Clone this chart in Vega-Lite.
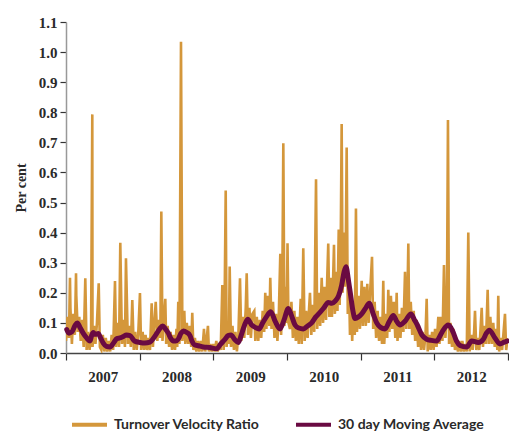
{
  "$schema": "https://vega.github.io/schema/vega-lite/v6.json",
  "width": 442,
  "height": 331,
  "autosize": {"type": "none"},
  "padding": {"left": 66, "top": 22, "right": 1, "bottom": 78},
  "background": "white",
  "config": {
    "view": {"stroke": null},
    "axis": {"grid": false}
  },
  "datasets": {
    "tvr": [
      {"t":2007.00,"v":0.04},{"t":2007.02,"v":0.12},{"t":2007.04,"v":0.05},{"t":2007.054,"v":0.25},{"t":2007.06,"v":0.15},{"t":2007.08,"v":0.03},{"t":2007.10,"v":0.13},{"t":2007.12,"v":0.06},{"t":2007.136,"v":0.265},{"t":2007.14,"v":0.19},{"t":2007.16,"v":0.07},{"t":2007.18,"v":0.12},{"t":2007.20,"v":0.04},{"t":2007.22,"v":0.11},{"t":2007.24,"v":0.02},{"t":2007.262,"v":0.248},{"t":2007.28,"v":0.01},{"t":2007.30,"v":0.07},{"t":2007.32,"v":0.01},{"t":2007.34,"v":0.06},{"t":2007.357,"v":0.793},{"t":2007.36,"v":0.02},{"t":2007.38,"v":0.09},{"t":2007.40,"v":0.03},{"t":2007.42,"v":0.10},{"t":2007.444,"v":0.232},{"t":2007.46,"v":0.02},{"t":2007.48,"v":0.01},{"t":2007.50,"v":0.06},{"t":2007.52,"v":0.005},{"t":2007.54,"v":0.05},{"t":2007.56,"v":0.005},{"t":2007.58,"v":0.04},{"t":2007.60,"v":0.005},{"t":2007.62,"v":0.06},{"t":2007.64,"v":0.01},{"t":2007.665,"v":0.239},{"t":2007.68,"v":0.02},{"t":2007.70,"v":0.10},{"t":2007.72,"v":0.02},{"t":2007.737,"v":0.366},{"t":2007.76,"v":0.03},{"t":2007.78,"v":0.11},{"t":2007.80,"v":0.02},{"t":2007.814,"v":0.315},{"t":2007.84,"v":0.03},{"t":2007.86,"v":0.09},{"t":2007.88,"v":0.02},{"t":2007.90,"v":0.176},{"t":2007.92,"v":0.01},{"t":2007.94,"v":0.07},{"t":2007.96,"v":0.01},{"t":2007.98,"v":0.06},{"t":2008.004,"v":0.199},{"t":2008.02,"v":0.01},{"t":2008.04,"v":0.07},{"t":2008.06,"v":0.01},{"t":2008.08,"v":0.06},{"t":2008.10,"v":0.01},{"t":2008.12,"v":0.05},{"t":2008.14,"v":0.01},{"t":2008.163,"v":0.165},{"t":2008.18,"v":0.02},{"t":2008.20,"v":0.10},{"t":2008.218,"v":0.17},{"t":2008.24,"v":0.04},{"t":2008.26,"v":0.11},{"t":2008.28,"v":0.05},{"t":2008.294,"v":0.47},{"t":2008.31,"v":0.04},{"t":2008.33,"v":0.12},{"t":2008.348,"v":0.18},{"t":2008.36,"v":0.03},{"t":2008.38,"v":0.09},{"t":2008.40,"v":0.02},{"t":2008.42,"v":0.07},{"t":2008.44,"v":0.01},{"t":2008.46,"v":0.06},{"t":2008.48,"v":0.01},{"t":2008.50,"v":0.08},{"t":2008.51,"v":0.02},{"t":2008.524,"v":0.17},{"t":2008.54,"v":0.03},{"t":2008.561,"v":1.034},{"t":2008.58,"v":0.04},{"t":2008.606,"v":0.14},{"t":2008.62,"v":0.03},{"t":2008.64,"v":0.10},{"t":2008.66,"v":0.03},{"t":2008.68,"v":0.09},{"t":2008.70,"v":0.02},{"t":2008.714,"v":0.134},{"t":2008.73,"v":0.01},{"t":2008.75,"v":0.05},{"t":2008.77,"v":0.005},{"t":2008.79,"v":0.04},{"t":2008.81,"v":0.005},{"t":2008.83,"v":0.04},{"t":2008.85,"v":0.005},{"t":2008.873,"v":0.08},{"t":2008.89,"v":0.005},{"t":2008.91,"v":0.05},{"t":2008.927,"v":0.09},{"t":2008.94,"v":0.005},{"t":2008.96,"v":0.03},{"t":2008.98,"v":0.005},{"t":2009.00,"v":0.03},{"t":2009.02,"v":0.005},{"t":2009.04,"v":0.04},{"t":2009.06,"v":0.005},{"t":2009.08,"v":0.03},{"t":2009.10,"v":0.01},{"t":2009.122,"v":0.226},{"t":2009.14,"v":0.01},{"t":2009.15,"v":0.09},{"t":2009.168,"v":0.54},{"t":2009.18,"v":0.02},{"t":2009.20,"v":0.10},{"t":2009.21,"v":0.03},{"t":2009.222,"v":0.287},{"t":2009.24,"v":0.02},{"t":2009.26,"v":0.09},{"t":2009.28,"v":0.01},{"t":2009.30,"v":0.07},{"t":2009.32,"v":0.005},{"t":2009.34,"v":0.06},{"t":2009.362,"v":0.248},{"t":2009.38,"v":0.04},{"t":2009.40,"v":0.12},{"t":2009.42,"v":0.05},{"t":2009.44,"v":0.15},{"t":2009.453,"v":0.265},{"t":2009.47,"v":0.06},{"t":2009.49,"v":0.15},{"t":2009.51,"v":0.05},{"t":2009.53,"v":0.13},{"t":2009.556,"v":0.14},{"t":2009.57,"v":0.04},{"t":2009.59,"v":0.12},{"t":2009.61,"v":0.04},{"t":2009.63,"v":0.11},{"t":2009.65,"v":0.05},{"t":2009.67,"v":0.14},{"t":2009.69,"v":0.07},{"t":2009.705,"v":0.20},{"t":2009.72,"v":0.08},{"t":2009.74,"v":0.19},{"t":2009.76,"v":0.09},{"t":2009.773,"v":0.25},{"t":2009.79,"v":0.08},{"t":2009.81,"v":0.17},{"t":2009.83,"v":0.05},{"t":2009.85,"v":0.13},{"t":2009.87,"v":0.04},{"t":2009.89,"v":0.14},{"t":2009.909,"v":0.33},{"t":2009.92,"v":0.06},{"t":2009.935,"v":0.18},{"t":2009.95,"v":0.697},{"t":2009.965,"v":0.09},{"t":2009.98,"v":0.22},{"t":2009.995,"v":0.10},{"t":2010.007,"v":0.365},{"t":2010.02,"v":0.10},{"t":2010.04,"v":0.08},{"t":2010.06,"v":0.17},{"t":2010.08,"v":0.05},{"t":2010.10,"v":0.14},{"t":2010.12,"v":0.04},{"t":2010.14,"v":0.12},{"t":2010.16,"v":0.03},{"t":2010.186,"v":0.18},{"t":2010.20,"v":0.03},{"t":2010.221,"v":0.348},{"t":2010.24,"v":0.04},{"t":2010.26,"v":0.14},{"t":2010.28,"v":0.05},{"t":2010.30,"v":0.15},{"t":2010.312,"v":0.20},{"t":2010.33,"v":0.06},{"t":2010.35,"v":0.16},{"t":2010.37,"v":0.07},{"t":2010.394,"v":0.577},{"t":2010.41,"v":0.08},{"t":2010.43,"v":0.20},{"t":2010.45,"v":0.09},{"t":2010.471,"v":0.25},{"t":2010.49,"v":0.10},{"t":2010.51,"v":0.22},{"t":2010.53,"v":0.11},{"t":2010.545,"v":0.24},{"t":2010.56,"v":0.364},{"t":2010.575,"v":0.12},{"t":2010.59,"v":0.25},{"t":2010.61,"v":0.12},{"t":2010.625,"v":0.24},{"t":2010.638,"v":0.36},{"t":2010.65,"v":0.13},{"t":2010.67,"v":0.27},{"t":2010.685,"v":0.14},{"t":2010.702,"v":0.41},{"t":2010.715,"v":0.16},{"t":2010.728,"v":0.33},{"t":2010.742,"v":0.761},{"t":2010.755,"v":0.20},{"t":2010.77,"v":0.40},{"t":2010.785,"v":0.22},{"t":2010.797,"v":0.33},{"t":2010.81,"v":0.683},{"t":2010.825,"v":0.13},{"t":2010.84,"v":0.25},{"t":2010.855,"v":0.06},{"t":2010.87,"v":0.18},{"t":2010.885,"v":0.04},{"t":2010.90,"v":0.16},{"t":2010.92,"v":0.06},{"t":2010.936,"v":0.48},{"t":2010.95,"v":0.07},{"t":2010.97,"v":0.19},{"t":2010.99,"v":0.08},{"t":2011.014,"v":0.24},{"t":2011.03,"v":0.09},{"t":2011.05,"v":0.22},{"t":2011.07,"v":0.09},{"t":2011.09,"v":0.23},{"t":2011.11,"v":0.10},{"t":2011.13,"v":0.21},{"t":2011.154,"v":0.32},{"t":2011.17,"v":0.08},{"t":2011.19,"v":0.17},{"t":2011.21,"v":0.05},{"t":2011.23,"v":0.14},{"t":2011.25,"v":0.04},{"t":2011.27,"v":0.12},{"t":2011.29,"v":0.03},{"t":2011.307,"v":0.24},{"t":2011.32,"v":0.03},{"t":2011.34,"v":0.13},{"t":2011.36,"v":0.05},{"t":2011.375,"v":0.21},{"t":2011.39,"v":0.07},{"t":2011.41,"v":0.19},{"t":2011.43,"v":0.08},{"t":2011.45,"v":0.17},{"t":2011.47,"v":0.05},{"t":2011.489,"v":0.20},{"t":2011.50,"v":0.04},{"t":2011.52,"v":0.13},{"t":2011.54,"v":0.05},{"t":2011.56,"v":0.15},{"t":2011.58,"v":0.07},{"t":2011.602,"v":0.27},{"t":2011.62,"v":0.08},{"t":2011.635,"v":0.19},{"t":2011.647,"v":0.364},{"t":2011.66,"v":0.08},{"t":2011.68,"v":0.17},{"t":2011.70,"v":0.06},{"t":2011.72,"v":0.14},{"t":2011.74,"v":0.04},{"t":2011.76,"v":0.11},{"t":2011.78,"v":0.02},{"t":2011.80,"v":0.08},{"t":2011.82,"v":0.01},{"t":2011.84,"v":0.07},{"t":2011.86,"v":0.01},{"t":2011.88,"v":0.06},{"t":2011.896,"v":0.18},{"t":2011.91,"v":0.005},{"t":2011.93,"v":0.06},{"t":2011.95,"v":0.01},{"t":2011.97,"v":0.07},{"t":2011.99,"v":0.01},{"t":2012.01,"v":0.08},{"t":2012.03,"v":0.02},{"t":2012.054,"v":0.12},{"t":2012.07,"v":0.03},{"t":2012.09,"v":0.12},{"t":2012.11,"v":0.04},{"t":2012.131,"v":0.292},{"t":2012.15,"v":0.05},{"t":2012.17,"v":0.13},{"t":2012.185,"v":0.774},{"t":2012.20,"v":0.03},{"t":2012.22,"v":0.10},{"t":2012.24,"v":0.02},{"t":2012.26,"v":0.08},{"t":2012.28,"v":0.01},{"t":2012.30,"v":0.05},{"t":2012.32,"v":0.005},{"t":2012.34,"v":0.04},{"t":2012.36,"v":0.005},{"t":2012.38,"v":0.04},{"t":2012.40,"v":0.005},{"t":2012.42,"v":0.03},{"t":2012.44,"v":0.005},{"t":2012.461,"v":0.40},{"t":2012.48,"v":0.005},{"t":2012.50,"v":0.06},{"t":2012.52,"v":0.01},{"t":2012.54,"v":0.07},{"t":2012.552,"v":0.14},{"t":2012.57,"v":0.01},{"t":2012.59,"v":0.05},{"t":2012.61,"v":0.01},{"t":2012.625,"v":0.07},{"t":2012.643,"v":0.15},{"t":2012.66,"v":0.02},{"t":2012.68,"v":0.09},{"t":2012.70,"v":0.03},{"t":2012.724,"v":0.21},{"t":2012.74,"v":0.03},{"t":2012.76,"v":0.12},{"t":2012.78,"v":0.03},{"t":2012.80,"v":0.10},{"t":2012.82,"v":0.02},{"t":2012.84,"v":0.08},{"t":2012.855,"v":0.01},{"t":2012.868,"v":0.19},{"t":2012.88,"v":0.005},{"t":2012.90,"v":0.05},{"t":2012.92,"v":0.01},{"t":2012.94,"v":0.07},{"t":2012.959,"v":0.13},{"t":2012.975,"v":0.01},{"t":2012.995,"v":0.05}
    ],
    "ma": [
      {"t":2007.01,"v":0.078},{"t":2007.04,"v":0.066},{"t":2007.08,"v":0.07},{"t":2007.12,"v":0.09},{"t":2007.153,"v":0.10},{"t":2007.19,"v":0.085},{"t":2007.235,"v":0.065},{"t":2007.28,"v":0.05},{"t":2007.326,"v":0.04},{"t":2007.35,"v":0.06},{"t":2007.371,"v":0.068},{"t":2007.40,"v":0.062},{"t":2007.438,"v":0.065},{"t":2007.47,"v":0.05},{"t":2007.506,"v":0.033},{"t":2007.55,"v":0.022},{"t":2007.597,"v":0.02},{"t":2007.65,"v":0.035},{"t":2007.69,"v":0.048},{"t":2007.733,"v":0.05},{"t":2007.78,"v":0.055},{"t":2007.82,"v":0.06},{"t":2007.869,"v":0.058},{"t":2007.93,"v":0.04},{"t":2008.004,"v":0.035},{"t":2008.07,"v":0.033},{"t":2008.14,"v":0.036},{"t":2008.19,"v":0.05},{"t":2008.231,"v":0.065},{"t":2008.27,"v":0.08},{"t":2008.313,"v":0.09},{"t":2008.35,"v":0.08},{"t":2008.389,"v":0.066},{"t":2008.42,"v":0.05},{"t":2008.456,"v":0.04},{"t":2008.49,"v":0.04},{"t":2008.524,"v":0.046},{"t":2008.56,"v":0.065},{"t":2008.592,"v":0.073},{"t":2008.64,"v":0.068},{"t":2008.683,"v":0.058},{"t":2008.71,"v":0.04},{"t":2008.74,"v":0.028},{"t":2008.80,"v":0.024},{"t":2008.864,"v":0.02},{"t":2008.95,"v":0.018},{"t":2009.046,"v":0.014},{"t":2009.10,"v":0.03},{"t":2009.158,"v":0.045},{"t":2009.20,"v":0.058},{"t":2009.24,"v":0.06},{"t":2009.29,"v":0.045},{"t":2009.339,"v":0.035},{"t":2009.38,"v":0.06},{"t":2009.42,"v":0.09},{"t":2009.466,"v":0.112},{"t":2009.521,"v":0.093},{"t":2009.57,"v":0.085},{"t":2009.62,"v":0.08},{"t":2009.67,"v":0.10},{"t":2009.72,"v":0.12},{"t":2009.779,"v":0.137},{"t":2009.84,"v":0.105},{"t":2009.905,"v":0.08},{"t":2009.96,"v":0.11},{"t":2010.018,"v":0.148},{"t":2010.06,"v":0.125},{"t":2010.109,"v":0.093},{"t":2010.16,"v":0.083},{"t":2010.221,"v":0.08},{"t":2010.28,"v":0.09},{"t":2010.335,"v":0.10},{"t":2010.39,"v":0.12},{"t":2010.448,"v":0.135},{"t":2010.50,"v":0.15},{"t":2010.56,"v":0.168},{"t":2010.61,"v":0.165},{"t":2010.651,"v":0.172},{"t":2010.70,"v":0.19},{"t":2010.742,"v":0.225},{"t":2010.775,"v":0.27},{"t":2010.801,"v":0.287},{"t":2010.835,"v":0.24},{"t":2010.865,"v":0.19},{"t":2010.895,"v":0.14},{"t":2010.923,"v":0.115},{"t":2010.97,"v":0.12},{"t":2011.014,"v":0.13},{"t":2011.07,"v":0.15},{"t":2011.117,"v":0.165},{"t":2011.17,"v":0.13},{"t":2011.218,"v":0.10},{"t":2011.27,"v":0.085},{"t":2011.33,"v":0.08},{"t":2011.39,"v":0.105},{"t":2011.443,"v":0.125},{"t":2011.49,"v":0.105},{"t":2011.534,"v":0.093},{"t":2011.60,"v":0.105},{"t":2011.683,"v":0.13},{"t":2011.73,"v":0.11},{"t":2011.769,"v":0.093},{"t":2011.83,"v":0.06},{"t":2011.896,"v":0.046},{"t":2011.96,"v":0.042},{"t":2012.032,"v":0.04},{"t":2012.08,"v":0.058},{"t":2012.121,"v":0.076},{"t":2012.189,"v":0.093},{"t":2012.257,"v":0.068},{"t":2012.30,"v":0.04},{"t":2012.348,"v":0.025},{"t":2012.439,"v":0.02},{"t":2012.507,"v":0.04},{"t":2012.597,"v":0.035},{"t":2012.665,"v":0.046},{"t":2012.705,"v":0.065},{"t":2012.746,"v":0.076},{"t":2012.823,"v":0.05},{"t":2012.891,"v":0.03},{"t":2012.95,"v":0.036},{"t":2012.995,"v":0.04}
    ]
  },
  "encoding": {
    "x": {
      "field": "t", "type": "quantitative",
      "scale": {"domain": [2007, 2013], "nice": false, "zero": false},
      "axis": {
        "title": null,
        "values": [2007, 2008, 2009, 2010, 2011, 2012, 2013],
        "format": "d",
        "labelExpr": "datum.value < 2013 ? datum.label : ''",
        "labelOffset": 36.8,
        "labelFlush": false,
        "labelOverlap": false,
        "labelFont": "Liberation Serif",
        "labelFontWeight": "bold",
        "labelFontSize": 15,
        "labelColor": "#2a2a2a",
        "labelPadding": 9,
        "tickSize": 7,
        "tickColor": "#333333",
        "tickWidth": 1.2,
        "domainColor": "#444444",
        "domainWidth": 1.5
      }
    },
    "y": {
      "field": "v", "type": "quantitative",
      "scale": {"domain": [0, 1.1], "nice": false},
      "axis": {
        "title": "Per cent",
        "values": [0, 0.1, 0.2, 0.3, 0.4, 0.5, 0.6, 0.7, 0.8, 0.9, 1.0, 1.1],
        "format": ".1f",
        "labelFont": "Liberation Serif",
        "labelFontWeight": "bold",
        "labelFontSize": 15,
        "labelColor": "#2a2a2a",
        "labelPadding": 3,
        "tickSize": 6,
        "tickColor": "#333333",
        "tickWidth": 1.2,
        "domainColor": "#999999",
        "domainWidth": 1.5,
        "titleFont": "Liberation Serif",
        "titleFontWeight": "bold",
        "titleFontSize": 14,
        "titleColor": "#2a2a2a",
        "titlePadding": 10
      }
    }
  },
  "layer": [
    {
      "data": {"name": "tvr"},
      "mark": {"type": "line", "strokeWidth": 2.6, "strokeJoin": "miter", "clip": true},
      "encoding": {
        "color": {
          "datum": "Turnover Velocity Ratio",
          "scale": {"domain": ["Turnover Velocity Ratio", "30 day Moving Average"], "range": ["#D4973B", "#6A0A42"]},
          "legend": {
            "title": null,
            "orient": "none",
            "legendX": 4,
            "legendY": 383,
            "direction": "horizontal",
            "symbolType": "stroke",
            "symbolSize": 1225,
            "symbolStrokeWidth": 4,
            "labelFont": "Lato",
            "labelFontWeight": "bold",
            "labelFontSize": 14,
            "labelColor": "#2a2a2a",
            "labelOffset": 5,
            "columnPadding": 27,
            "labelLimit": 300
          }
        }
      }
    },
    {
      "data": {"name": "ma"},
      "mark": {"type": "line", "strokeWidth": 5, "strokeCap": "round", "strokeJoin": "round", "interpolate": "monotone"},
      "encoding": {
        "color": {"datum": "30 day Moving Average"}
      }
    }
  ]
}
